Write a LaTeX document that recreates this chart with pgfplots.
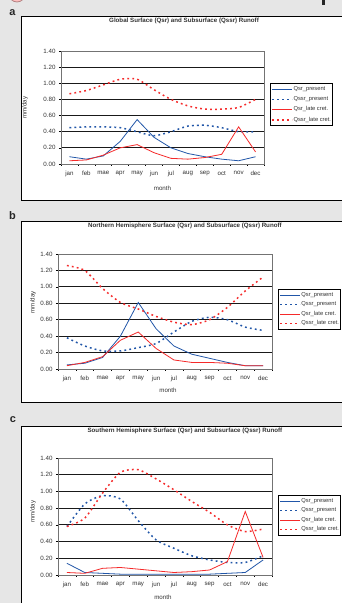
\documentclass[border=0pt]{standalone}
\usepackage{fontspec}
\setmainfont{Liberation Sans}
\usepackage{pgfplots}
\usepackage{pgfplotstable}
\pgfplotsset{compat=1.18}
\definecolor{bg}{HTML}{E6E6E6}
\definecolor{pblue}{HTML}{2156A8}
\definecolor{pred}{HTML}{F52A2A}
\definecolor{txt}{HTML}{333333}

\pgfplotstableread{
m qsrp qssrp qsrl qssrl
1  0.09 0.45 0.04 0.87
2  0.06 0.46 0.05 0.91
3  0.10 0.46 0.11 0.98
4  0.28 0.45 0.20 1.05
5  0.55 0.40 0.24 1.05
6  0.33 0.35 0.14 0.92
7  0.20 0.40 0.07 0.80
8  0.13 0.47 0.06 0.72
9  0.09 0.48 0.08 0.68
10 0.06 0.45 0.12 0.68
11 0.04 0.40 0.46 0.70
12 0.09 0.40 0.15 0.80
}\dataA

\pgfplotstableread{
m qsrp qssrp qsrl qssrl
1  0.05 0.38 0.04 1.26
2  0.07 0.28 0.08 1.20
3  0.14 0.22 0.15 0.98
4  0.40 0.22 0.35 0.81
5  0.81 0.26 0.45 0.73
6  0.49 0.31 0.25 0.64
7  0.28 0.45 0.11 0.57
8  0.18 0.58 0.08 0.54
9  0.13 0.63 0.08 0.60
10 0.08 0.60 0.07 0.75
11 0.04 0.51 0.04 0.95
12 0.04 0.47 0.04 1.12
}\dataB

\pgfplotstableread{
m qsrp qssrp qsrl qssrl
1  0.14 0.58 0.03 0.58
2  0.03 0.85 0.02 0.68
3  0.02 0.95 0.08 0.98
4  0.01 0.91 0.09 1.23
5  0.01 0.65 0.07 1.26
6  0.01 0.42 0.05 1.15
7  0.01 0.32 0.03 1.02
8  0.01 0.23 0.04 0.88
9  0.01 0.18 0.06 0.75
10 0.02 0.15 0.16 0.60
11 0.03 0.15 0.76 0.52
12 0.18 0.23 0.21 0.55
}\dataC

\tikzset{
 srb/.style={draw=pblue, color=pblue, line width=0.8pt, solid},
 ssrb/.style={draw=pblue, color=pblue, line width=1.5pt, dash pattern=on 1.8bp off 3.2bp},
 srr/.style={draw=pred, color=pred, line width=0.8pt, solid},
 ssrr/.style={draw=pred, color=pred, line width=1.5pt, dash pattern=on 1.8bp off 3.2bp},
}

\pgfplotsset{
 legend image code/.code={\draw[#1] (0bp,0bp) -- (20bp,0bp);},
 panel/.style={
  scale only axis, xmin=0.5, xmax=12.5, ymin=0, ymax=1.4,
  xtick={1,...,12},
  xticklabels={jan,feb,mae,apr,may,jun,jul,aug,sep,oct,nov,dec},
  major x tick style={draw=none},
  minor xtick={0.5,1.5,2.5,3.5,4.5,5.5,6.5,7.5,8.5,9.5,10.5,11.5,12.5},
  ytick={0,0.2,0.4,0.6,0.8,1.0,1.2,1.4},
  ymajorgrids, major grid style={black!90, line width=0.9pt},
  tick align=outside, tick pos=left,
  major tick length=2bp, minor tick length=2bp,
  axis line style={draw=black!55, line width=0.9pt},
  every tick/.style={black, line width=0.6pt},
  ticklabel style={font=\fontsize{6.2}{7}\selectfont, text=txt},
  xticklabel style={yshift=-2bp},
  yticklabel style={/pgf/number format/.cd, fixed, fixed zerofill, precision=2},
  /pgf/number format/assume math mode=true,
  xlabel=month, ylabel=mm/day,
  label style={font=\fontsize{6.2}{7}\selectfont, text=txt},
  title style={font=\bfseries\fontsize{6.2}{7}\selectfont, text=txt, anchor=center},
  legend style={font=\fontsize{5.8}{7}\selectfont, text=txt, draw=black, line width=0.9pt,
     anchor=north west, row sep=3.6bp, inner xsep=1bp, inner ysep=2.5bp,
     nodes={inner sep=0.5bp}},
  legend cell align=left,
  clip=false,
 },
}

\begin{document}
\begin{tikzpicture}
\useasboundingbox (0,0) rectangle (342bp,603bp);
\clip (0,0) rectangle (342bp,603bp);
\fill[bg] (0,0) rectangle (342bp,603bp);
\draw[fill=red!25, draw=red!40!black!50, line width=0.8pt] (17bp,609bp) circle (8bp);
\fill[black!85] (322bp,598bp) rectangle (325bp,603bp);
% panel boxes
\draw[black, line width=1pt, fill=white] (21.5bp,586bp) rectangle (370bp,402bp);
\draw[black, line width=1pt, fill=white] (21.5bp,381bp) rectangle (370bp,200bp);
\draw[black, line width=1pt, fill=white] (21.5bp,176bp) rectangle (370bp,-20bp);
\node[font=\bfseries\fontsize{11}{12}\selectfont, text=black!85] at (12.5bp,590bp) {a};
\node[font=\bfseries\fontsize{11}{12}\selectfont, text=black!85] at (12.5bp,387bp) {b};
\node[font=\bfseries\fontsize{11}{12}\selectfont, text=black!85] at (13bp,183bp) {c};

% panel a
\begin{axis}[panel, at={(61bp,439bp)}, anchor=south west, width=203bp, height=113bp,
  title={Global Surface (Qsr) and Subsurface (Qssr) Runoff},
  title style={at={(axis description cs:0.606,1.212)}},
  xlabel style={at={(axis description cs:0.5,-0.212)}, anchor=center},
  ylabel style={at={(axis description cs:-0.177,0.5)}, anchor=center},
  legend style={at={(axis description cs:1.03,0.717)}}]
\addplot[srb] table[x=m,y=qsrp] {\dataA};
\addlegendentry{Qsr\_present}
\addplot[ssrb, smooth, tension=0.4] table[x=m,y=qssrp] {\dataA};
\addlegendentry{Qssr\_present}
\addplot[srr] table[x=m,y=qsrl] {\dataA};
\addlegendentry{Qsr\_late cret.}
\addplot[ssrr, smooth, tension=0.4] table[x=m,y=qssrl] {\dataA};
\addlegendentry{Qssr\_late cret.}
\end{axis}

% panel b
\begin{axis}[panel, at={(58bp,234bp)}, anchor=south west, width=214bp, height=115bp,
  title={Northern Hemisphere Surface (Qsr) and Subsurface (Qssr) Runoff},
  title style={at={(axis description cs:0.593,1.191)}},
  xlabel style={at={(axis description cs:0.514,-0.183)}, anchor=center},
  ylabel style={at={(axis description cs:-0.117,0.58)}, anchor=center},
  legend style={at={(axis description cs:1.028,0.696)}, row sep=2.8bp}]
\addplot[srb] table[x=m,y=qsrp] {\dataB};
\addlegendentry{Qsr\_present}
\addplot[ssrb, smooth, tension=0.4] table[x=m,y=qssrp] {\dataB};
\addlegendentry{Qssr\_present}
\addplot[srr] table[x=m,y=qsrl] {\dataB};
\addlegendentry{Qsr\_late cret.}
\addplot[ssrr, smooth, tension=0.4] table[x=m,y=qssrl] {\dataB};
\addlegendentry{Qssr\_late cret.}
\end{axis}

% panel c
\begin{axis}[panel, at={(58bp,28bp)}, anchor=south west, width=214bp, height=117bp,
  title={Southern Hemisphere Surface (Qsr) and Subsurface (Qssr) Runoff},
  title style={at={(axis description cs:0.593,1.18)}},
  xlabel style={at={(axis description cs:0.49,-0.188)}, anchor=center},
  ylabel style={at={(axis description cs:-0.117,0.54)}, anchor=center},
  legend style={at={(axis description cs:1.028,0.684)}, row sep=2.8bp}]
\addplot[srb] table[x=m,y=qsrp] {\dataC};
\addlegendentry{Qsr\_present}
\addplot[ssrb, smooth, tension=0.4] table[x=m,y=qssrp] {\dataC};
\addlegendentry{Qssr\_present}
\addplot[srr] table[x=m,y=qsrl] {\dataC};
\addlegendentry{Qsr\_late cret.}
\addplot[ssrr, smooth, tension=0.4] table[x=m,y=qssrl] {\dataC};
\addlegendentry{Qssr\_late cret.}
\end{axis}
\end{tikzpicture}
\end{document}
